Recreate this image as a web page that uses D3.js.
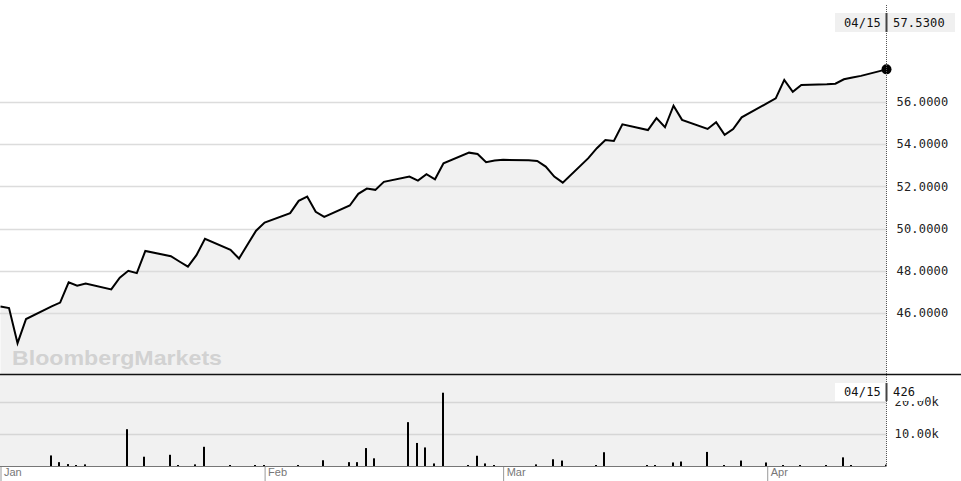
<!DOCTYPE html>
<html>
<head>
<meta charset="utf-8">
<script src="https://cdn.jsdelivr.net/npm/d3@7"></script>
<style>
  body { margin: 0; background: #fff; }
  svg { display: block; }
</style>
</head>
<body>
<svg width="961" height="481"></svg>
<script>
// price closes, Jan 1 - Apr 15 2013
const priceDates = [
    '2013-01-01', '2013-01-02', '2013-01-03', '2013-01-04', '2013-01-07', '2013-01-08', '2013-01-09',
    '2013-01-10', '2013-01-11', '2013-01-14', '2013-01-15', '2013-01-16', '2013-01-17', '2013-01-18',
    '2013-01-21', '2013-01-22', '2013-01-23', '2013-01-24', '2013-01-25', '2013-01-28', '2013-01-29',
    '2013-01-30', '2013-01-31', '2013-02-01', '2013-02-04', '2013-02-05', '2013-02-06', '2013-02-07',
    '2013-02-08', '2013-02-11', '2013-02-12', '2013-02-13', '2013-02-14', '2013-02-15', '2013-02-18',
    '2013-02-19', '2013-02-20', '2013-02-21', '2013-02-22', '2013-02-25', '2013-02-26', '2013-02-27',
    '2013-02-28', '2013-03-01', '2013-03-04', '2013-03-05', '2013-03-06', '2013-03-07', '2013-03-08',
    '2013-03-11', '2013-03-12', '2013-03-13', '2013-03-14', '2013-03-15', '2013-03-18', '2013-03-19',
    '2013-03-20', '2013-03-21', '2013-03-22', '2013-03-25', '2013-03-26', '2013-03-27', '2013-03-28',
    '2013-03-29', '2013-04-01', '2013-04-02', '2013-04-03', '2013-04-04', '2013-04-05', '2013-04-08',
    '2013-04-09', '2013-04-10', '2013-04-11', '2013-04-12', '2013-04-15'
];
const closes = [
    46.31, 46.24, 44.58, 45.72, 46.32, 46.50, 47.46,
    47.30, 47.40, 47.12, 47.68, 48.00, 47.89, 48.94,
    48.69, 48.44, 48.20, 48.74, 49.51, 48.99, 48.58,
    49.25, 49.90, 50.28, 50.73, 51.31, 51.51, 50.79,
    50.55, 51.09, 51.64, 51.89, 51.83, 52.21, 52.46,
    52.27, 52.57, 52.33, 53.09, 53.59, 53.53, 53.14,
    53.22, 53.25, 53.23, 53.20, 52.93, 52.46, 52.17,
    53.33, 53.80, 54.19, 54.14, 54.93, 54.66, 55.22,
    54.79, 55.81, 55.14, 54.71, 55.03, 54.43, 54.71,
    55.26, 55.93, 56.16, 57.03, 56.47, 56.79, 56.82,
    56.85, 57.06, 57.14, 57.22, 57.53
];

const volDates = [
    '2013-01-07', '2013-01-08', '2013-01-09', '2013-01-10', '2013-01-11', '2013-01-16', '2013-01-18',
    '2013-01-21', '2013-01-22', '2013-01-24', '2013-01-25', '2013-01-28', '2013-01-31', '2013-02-01',
    '2013-02-05', '2013-02-08', '2013-02-11', '2013-02-12', '2013-02-13', '2013-02-14', '2013-02-18',
    '2013-02-19', '2013-02-20', '2013-02-21', '2013-02-22', '2013-02-25', '2013-02-26', '2013-02-27',
    '2013-02-28', '2013-03-05', '2013-03-07', '2013-03-08', '2013-03-12', '2013-03-13', '2013-03-18',
    '2013-03-19', '2013-03-21', '2013-03-22', '2013-03-25', '2013-03-27', '2013-03-29', '2013-04-01',
    '2013-04-03', '2013-04-05', '2013-04-08', '2013-04-10', '2013-04-11', '2013-04-15'
];
const volumes = [
    3300, 1200, 600, 200, 500, 11500, 2900,
    3500, 300, 500, 6000, 100, 200, 100,
    300, 1800, 1200, 1200, 5600, 2400, 13700,
    7200, 5800, 800, 22900, 150, 3200, 800,
    100, 500, 2100, 1700, 200, 4300, 200,
    100, 1100, 1400, 4400, 100, 1700, 1100,
    200, 100, 100, 2700, 100, 426
];

const priceTicks = [46, 48, 50, 52, 54, 56];
const volTicks = [10000, 20000];
const lastLabel = { date: '04/15', price: '57.5300', volume: '426' };

const svg = d3.select('svg');
const width = 961;
const plotRight = 886.5;
const mainBottom = 374;
const volBottom = 466;
const fill = '#f1f1f1';
const mono = '"DejaVu Sans Mono", monospace';

const parse = d3.timeParse('%Y-%m-%d');
const prices = priceDates.map((d, i) => ({ date: parse(d), value: closes[i] }));
const vols = volDates.map((d, i) => ({ date: parse(d), value: volumes[i] }));

const xScale = d3.scaleTime()
    .domain([parse('2013-01-01'), parse('2013-04-15')])
    .range([0.5, plotRight]);

const yScale = d3.scaleLinear()
    .domain([43.12, 60.81])
    .range([mainBottom, 0]);

const vScale = d3.scaleLinear()
    .domain([0, 28750])
    .range([volBottom, mainBottom]);

// grey area under the price line
const area = d3.area()
    .x(d => xScale(d.date))
    .y0(mainBottom)
    .y1(d => yScale(d.value));

svg.append('path')
    .attr('d', area(prices))
    .attr('fill', fill);

// volume panel background
svg.append('rect')
    .attr('x', 0)
    .attr('y', mainBottom)
    .attr('width', plotRight)
    .attr('height', volBottom - mainBottom)
    .attr('fill', fill);

// grid lines
svg.append('g').selectAll('line')
    .data(priceTicks)
    .join('line')
    .attr('x1', 0)
    .attr('x2', plotRight)
    .attr('y1', d => Math.round(yScale(d)) + 0.5)
    .attr('y2', d => Math.round(yScale(d)) + 0.5)
    .attr('stroke', '#dcdcdc')
    .attr('stroke-width', 1.5);

svg.append('g').selectAll('line')
    .data(volTicks)
    .join('line')
    .attr('x1', 0)
    .attr('x2', plotRight)
    .attr('y1', d => Math.round(vScale(d)) + 0.5)
    .attr('y2', d => Math.round(vScale(d)) + 0.5)
    .attr('stroke', '#d6d6d6')
    .attr('stroke-width', 1.5);

// watermark
svg.append('text')
    .attr('x', 12)
    .attr('y', 365)
    .attr('font-family', '"Liberation Sans", Arial, sans-serif')
    .attr('font-weight', 'bold')
    .attr('font-size', 21)
    .attr('textLength', 210)
    .attr('lengthAdjust', 'spacingAndGlyphs')
    .attr('fill', '#d2d2d2')
    .text('BloombergMarkets');

// price line
const line = d3.line()
    .x(d => xScale(d.date))
    .y(d => yScale(d.value));

svg.append('path')
    .attr('d', line(prices))
    .attr('fill', 'none')
    .attr('stroke', '#000')
    .attr('stroke-width', 2)
    .attr('stroke-linejoin', 'miter');

const last = prices[prices.length - 1];
svg.append('circle')
    .attr('cx', xScale(last.date))
    .attr('cy', yScale(last.value))
    .attr('r', 5)
    .attr('fill', '#000');

// volume bars
svg.append('g').selectAll('rect')
    .data(vols)
    .join('rect')
    .attr('x', d => Math.round(xScale(d.date)) - 2)
    .attr('width', 2)
    .attr('y', d => Math.min(vScale(d.value), volBottom - 1))
    .attr('height', d => Math.max(volBottom - vScale(d.value), 1))
    .attr('fill', '#000');

// panel separator and volume baseline
svg.append('line')
    .attr('x1', 0).attr('x2', width)
    .attr('y1', mainBottom + 0.5).attr('y2', mainBottom + 0.5)
    .attr('stroke', '#111')
    .attr('stroke-width', 1.5);

svg.append('line')
    .attr('x1', 0).attr('x2', plotRight)
    .attr('y1', volBottom + 0.5).attr('y2', volBottom + 0.5)
    .attr('stroke', '#777');

// dotted cursor line at last date
svg.append('line')
    .attr('x1', plotRight).attr('x2', plotRight)
    .attr('y1', 5).attr('y2', volBottom + 1)
    .attr('stroke', '#555')
    .attr('stroke-dasharray', '1,1');

// right axes
const yAxis = d3.axisRight(yScale)
    .tickValues(priceTicks)
    .tickFormat(d3.format('.4f'))
    .tickSize(0)
    .tickPadding(10);

const yAxisG = svg.append('g')
    .attr('transform', `translate(${plotRight},0)`)
    .call(yAxis);
yAxisG.select('.domain').remove();
yAxisG.selectAll('text')
    .attr('font-family', mono)
    .attr('font-size', 12)
    .attr('letter-spacing', 0.2)
    .attr('fill', '#222');

const vAxis = d3.axisRight(vScale)
    .tickValues(volTicks)
    .tickFormat(d => (d / 1000).toFixed(2) + 'k')
    .tickSize(0)
    .tickPadding(8);

const vAxisG = svg.append('g')
    .attr('transform', `translate(${plotRight},0)`)
    .call(vAxis);
vAxisG.select('.domain').remove();
vAxisG.selectAll('text')
    .attr('font-family', mono)
    .attr('font-size', 12)
    .attr('letter-spacing', 0.2)
    .attr('fill', '#222');

// last value labels
function lastBox(y, h, bg, value, right) {
    const g = svg.append('g');
    g.append('rect')
        .attr('x', 835).attr('y', y)
        .attr('width', right - 835).attr('height', h)
        .attr('fill', bg);
    g.append('line')
        .attr('x1', plotRight).attr('x2', plotRight)
        .attr('y1', y).attr('y2', y + h)
        .attr('stroke', '#444')
        .attr('stroke-width', 2);
    g.append('text')
        .attr('x', 881).attr('y', y + h / 2)
        .attr('dy', '0.35em')
        .attr('text-anchor', 'end')
        .attr('font-family', mono).attr('font-size', 12)
        .attr('letter-spacing', 0.2)
        .attr('fill', '#111')
        .text(lastLabel.date);
    g.append('text')
        .attr('x', 893).attr('y', y + h / 2)
        .attr('dy', '0.35em')
        .attr('font-family', mono).attr('font-size', 12)
        .attr('letter-spacing', 0.2)
        .attr('fill', '#111')
        .text(value);
}
lastBox(13, 19, '#f0f0f0', lastLabel.price, 955);
lastBox(383, 18, '#ffffff', lastLabel.volume, 923);

// month axis
const xAxis = d3.axisBottom(xScale)
    .ticks(d3.timeMonth.every(1))
    .tickFormat(d3.timeFormat('%b'))
    .tickSize(14)
    .tickPadding(0);

const xAxisG = svg.append('g')
    .attr('transform', `translate(0,${volBottom + 1})`)
    .call(xAxis);
xAxisG.select('.domain').remove();
xAxisG.selectAll('.tick line')
    .attr('stroke', '#999');
xAxisG.selectAll('.tick text')
    .attr('y', 5)
    .attr('dy', '0.35em')
    .attr('x', 3)
    .attr('text-anchor', 'start')
    .attr('font-family', '"Liberation Sans", Arial, sans-serif')
    .attr('font-size', 11)
    .attr('fill', '#777');
</script>
</body>
</html>
